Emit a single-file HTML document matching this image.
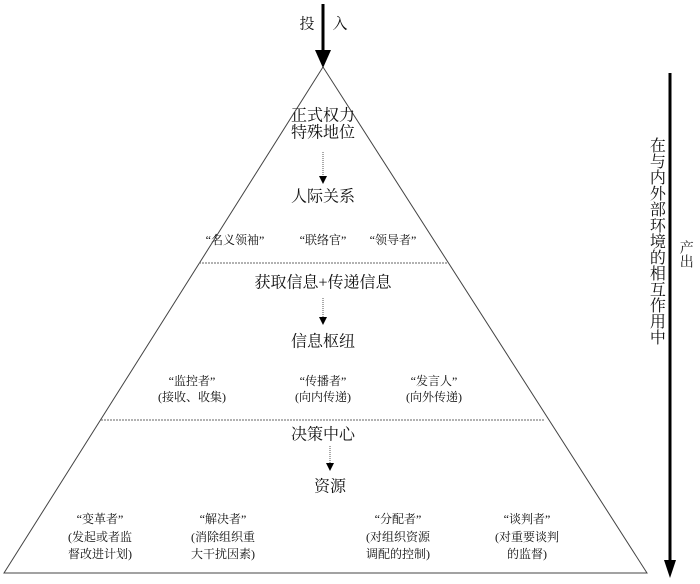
<!DOCTYPE html>
<html><head><meta charset="utf-8"><style>
html,body{margin:0;padding:0;background:#fff;}
svg text{font-family:"Liberation Serif","Noto Serif CJK SC",serif;fill:#111;text-anchor:middle;dominant-baseline:middle;}
</style></head><body>
<svg width="700" height="579" viewBox="0 0 700 579" xmlns="http://www.w3.org/2000/svg">
<polygon points="323,67 4,573 647,573" fill="none" stroke="#444" stroke-width="1"/>
<line x1="199" y1="263" x2="447" y2="263" stroke="#666" stroke-width="1" stroke-dasharray="2,1"/>
<line x1="101" y1="420" x2="545" y2="420" stroke="#666" stroke-width="1" stroke-dasharray="2,1"/>
<line x1="323" y1="4" x2="323" y2="52" stroke="#000" stroke-width="3"/>
<polygon points="315,50 331,50 323,68" fill="#000"/>
<text x="307" y="25" font-size="15">投</text>
<text x="340" y="25" font-size="15">入</text>
<line x1="670" y1="73" x2="670" y2="562" stroke="#000" stroke-width="3"/>
<polygon points="664,560 676,560 670,578" fill="#000"/>
<text x="655" y="241" font-size="16" style="writing-mode:vertical-rl">在与内外部环境的相互作用中</text>
<text x="685" y="254" font-size="14" style="writing-mode:vertical-rl">产出</text>
<text x="323" y="117" font-size="16">正式权力</text>
<text x="323" y="134" font-size="16">特殊地位</text>
<line x1="323" y1="152" x2="323" y2="177" stroke="#555" stroke-dasharray="1,1"/>
<polygon points="319,176 327,176 323,184" fill="#000"/>
<text x="323" y="198" font-size="16">人际关系</text>
<text x="235" y="241" font-size="12">“名义领袖”</text>
<text x="323" y="241" font-size="12">“联络官”</text>
<text x="393" y="241" font-size="12">“领导者”</text>
<text x="323" y="284" font-size="16">获取信息+传递信息</text>
<line x1="323" y1="298" x2="323" y2="318" stroke="#555" stroke-dasharray="1,1"/>
<polygon points="319,317 327,317 323,325" fill="#000"/>
<text x="323" y="343" font-size="16">信息枢纽</text>
<text x="192" y="382" font-size="12">“监控者”</text>
<text x="192" y="398" font-size="12">(接收、收集)</text>
<text x="323" y="382" font-size="12">“传播者”</text>
<text x="323" y="398" font-size="12">(向内传递)</text>
<text x="434" y="382" font-size="12">“发言人”</text>
<text x="434" y="398" font-size="12">(向外传递)</text>
<text x="323" y="436" font-size="16">决策中心</text>
<line x1="330" y1="446" x2="330" y2="464" stroke="#555" stroke-dasharray="1,1"/>
<polygon points="326,463 334,463 330,471" fill="#000"/>
<text x="330" y="488" font-size="16">资源</text>
<text x="100" y="520" font-size="12">“变革者”</text>
<text x="100" y="538" font-size="12">(发起或者监</text>
<text x="100" y="555" font-size="12">督改进计划)</text>
<text x="223" y="520" font-size="12">“解决者”</text>
<text x="223" y="538" font-size="12">(消除组织重</text>
<text x="223" y="555" font-size="12">大干扰因素)</text>
<text x="398" y="520" font-size="12">“分配者”</text>
<text x="398" y="538" font-size="12">(对组织资源</text>
<text x="398" y="555" font-size="12">调配的控制)</text>
<text x="527" y="520" font-size="12">“谈判者”</text>
<text x="527" y="538" font-size="12">(对重要谈判</text>
<text x="527" y="555" font-size="12">的监督)</text>
</svg>
</body></html>
